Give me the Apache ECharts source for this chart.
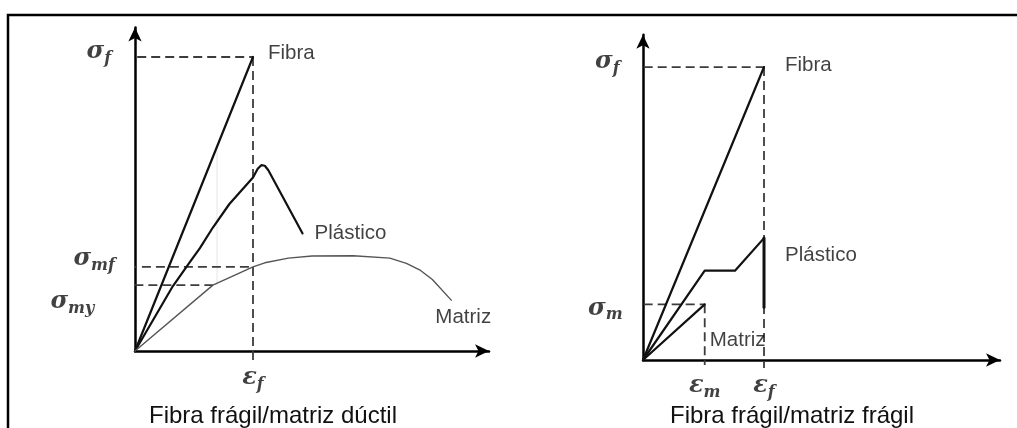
<!DOCTYPE html>
<html>
<head>
<meta charset="utf-8">
<title>Fibra frágil</title>
<script src="https://cdn.jsdelivr.net/npm/echarts@6.0.0/dist/echarts.min.js"></script>
<style>
  html, body { margin: 0; padding: 0; background: #fff; }
  #chart { width: 1017px; height: 428px; }
</style>
</head>
<body>
<div id="chart"></div>
<script>
// ---- Fibra frágil / matriz dúctil (left panel) ----
const ductFibra = [[0, 0], [100, 100]];
const ductPlastico = [[0, 0], [32, 22], [46, 30], [55, 35], [66, 42], [80, 50], [100, 59],
  [104, 62], [107, 63.2], [110, 63], [113, 61.5], [142, 40]];
const ductMatriz = [[0, 0], [66, 22.4], [100, 28.6], [110, 30], [130, 31.6], [150, 32.3],
  [185, 32.4], [216, 31.6], [230, 29.8], [242, 27.4], [252, 24.3], [268, 17.3]];
const ductStress = [100, 28.6, 22.4];          // σf, σmf, σmy
const ductStrain = [100, 66];                  // εf, strain at matrix yield
const ductStressSubs = ['f', 'mf', 'my'];

// ---- Fibra frágil / matriz frágil (right panel) ----
const fragFibra = [[0, 0], [100, 100]];
const fragPlastico = [[0, 0], [51, 30.5], [76, 30.5], [100, 41.6]];
const fragPlasticoDrop = [[100, 41.6], [100, 18]];
const fragMatriz = [[0, 0], [51, 19]];
const fragStress = [100, 19];                  // σf, σm
const fragStrain = [100, 51];                  // εf, εm
const fragStressSubs = ['f', 'm'];
const fragStrainSubs = ['f', 'm'];

const curveNames = ['Fibra', 'Plástico', 'Matriz'];
const captions = ['Fibra frágil/matriz dúctil', 'Fibra frágil/matriz frágil'];

const FONT = '"Liberation Sans", Arial, sans-serif';
const MATH = '"DejaVu Serif", serif';
const INK = '#111';

const mathRich = {
  s: { fontFamily: MATH, fontWeight: 'bold', fontStyle: 'italic', fontSize: 24, lineHeight: 30, color: INK },
  b: { fontFamily: MATH, fontWeight: 'bold', fontStyle: 'italic', fontSize: 16, lineHeight: 12,
       verticalAlign: 'bottom', color: INK }
};
const sym = (g, sub) => '{s|' + g + '}{b|' + sub + '}';

function axisPair(idx, xMax, yMax) {
  const line = { show: true, onZero: true, symbol: ['none', 'arrow'], symbolSize: [10, 14],
    lineStyle: { color: '#000', width: 2.5 } };
  return {
    x: { type: 'value', gridIndex: idx, min: 0, max: xMax, axisLine: line,
         axisTick: { show: false }, axisLabel: { show: false }, splitLine: { show: false } },
    y: { type: 'value', gridIndex: idx, min: 0, max: yMax, axisLine: line,
         axisTick: { show: false }, axisLabel: { show: false }, splitLine: { show: false } }
  };
}

function curve(idx, data, color, width) {
  return { type: 'line', xAxisIndex: idx, yAxisIndex: idx, data, symbol: 'none', silent: true,
    clip: false, lineStyle: { color, width, join: 'round', cap: 'round' }, z: 3 };
}
function guide(idx, data) {
  return { type: 'line', xAxisIndex: idx, yAxisIndex: idx, data, symbol: 'none', silent: true,
    clip: false, lineStyle: { color: '#3c3c3c', width: 1.8, type: [9, 5] }, z: 2 };
}
function note(value, text, position, distance, offset, rich) {
  return { value, label: { show: true, formatter: text, position, distance, offset: offset || [0, 0],
    fontFamily: FONT, fontSize: 20.5, color: INK, rich: rich ? mathRich : undefined } };
}
function notes(idx, items) {
  return { type: 'scatter', xAxisIndex: idx, yAxisIndex: idx, symbolSize: 0, silent: true,
    clip: false, data: items, z: 4 };
}

const A = axisPair(0, 300, 110);
const B = axisPair(1, 295, 111);

const [dSf, dSmf, dSmy] = ductStress;
const [dEf, dEy] = ductStrain;
const [fSf, fSm] = fragStress;
const [fEf, fEm] = fragStrain;
const lastD = ductPlastico[ductPlastico.length - 1];
const lastM = ductMatriz[ductMatriz.length - 1];

const option = {
  animation: false,
  backgroundColor: '#fff',
  grid: [
    { left: 135, top: 27.6, width: 354, height: 323.4 },
    { left: 643, top: 34.8, width: 357, height: 325.2 }
  ],
  xAxis: [A.x, B.x],
  yAxis: [A.y, B.y],
  series: [
    // left panel guides
    guide(0, [[-10, dSf], [dEf, dSf]]),
    guide(0, [[dEf, dSf], [dEf, -3.7]]),
    guide(0, [[-6, dSmf], [dEf, dSmf]]),
    guide(0, [[-48, dSmy], [dEy, dSmy]]),
    { type: 'line', xAxisIndex: 0, yAxisIndex: 0, data: [[69.5, dSmy], [69.5, 68]], symbol: 'none',
      silent: true, lineStyle: { color: '#e6e6e6', width: 1 }, z: 1 },
    curve(0, ductFibra, INK, 2.2),
    curve(0, ductPlastico, INK, 2.2),
    curve(0, ductMatriz, '#555', 1.4),
    notes(0, [
      note([-10, dSf], sym('σ', ductStressSubs[0]), 'left', 12, [0, -5], true),
      note([-6, dSmf], sym('σ', ductStressSubs[1]), 'left', 13, [0, -8], true),
      note([-48, dSmy], sym('σ', ductStressSubs[2]), 'bottom', 2, [-6, 0], true),
      note([dEf, 0], sym('ε', 'f'), 'bottom', 12, [0, 0], true),
      note(ductFibra[1], curveNames[0], 'right', 15, [0, -4]),
      note(lastD, curveNames[1], 'right', 12, [0, 0]),
      note(lastM, curveNames[2], 'bottom', 7, [12, 0])
    ]),

    // right panel guides
    guide(1, [[-11, fSf], [fEf, fSf]]),
    guide(1, [[fEf, fSf], [fEf, -2.7]]),
    guide(1, [[-11, fSm], [fEm, fSm]]),
    guide(1, [[fEm, fSm], [fEm, -1.7]]),
    curve(1, fragFibra, INK, 2.2),
    curve(1, fragPlastico, INK, 2.2),
    curve(1, fragPlasticoDrop, INK, 3),
    curve(1, fragMatriz, INK, 2.2),
    notes(1, [
      note([-11, fSf], sym('σ', fragStressSubs[0]), 'left', 10, [0, -5], true),
      note([-11, fSm], sym('σ', fragStressSubs[1]), 'left', 7, [0, 4], true),
      note([fEm, 0], sym('ε', fragStrainSubs[1]), 'bottom', 11, [0, 0], true),
      note([fEf, 0], sym('ε', fragStrainSubs[0]), 'bottom', 11, [0, 0], true),
      note(fragFibra[1], curveNames[0], 'right', 21, [0, -2]),
      note(fragPlastico[fragPlastico.length - 1], curveNames[1], 'right', 21, [0, 17]),
      note([fEm, 0], curveNames[2], 'right', 5, [0, -20])
    ])
  ],
  graphic: [
    { type: 'rect', silent: true, shape: { x: 8, y: 15, width: 1100, height: 500 },
      style: { fill: 'none', stroke: '#000', lineWidth: 2.5 }, z: 10 },
    { type: 'text', silent: true, x: 273, y: 416,
      style: { text: captions[0], align: 'center', verticalAlign: 'middle', fontFamily: FONT,
               fontSize: 24, fill: INK } },
    { type: 'text', silent: true, x: 792, y: 416,
      style: { text: captions[1], align: 'center', verticalAlign: 'middle', fontFamily: FONT,
               fontSize: 24, fill: INK } }
  ]
};

const chart = echarts.init(document.getElementById('chart'), null, { renderer: 'canvas' });
chart.setOption(option);
</script>
</body>
</html>
